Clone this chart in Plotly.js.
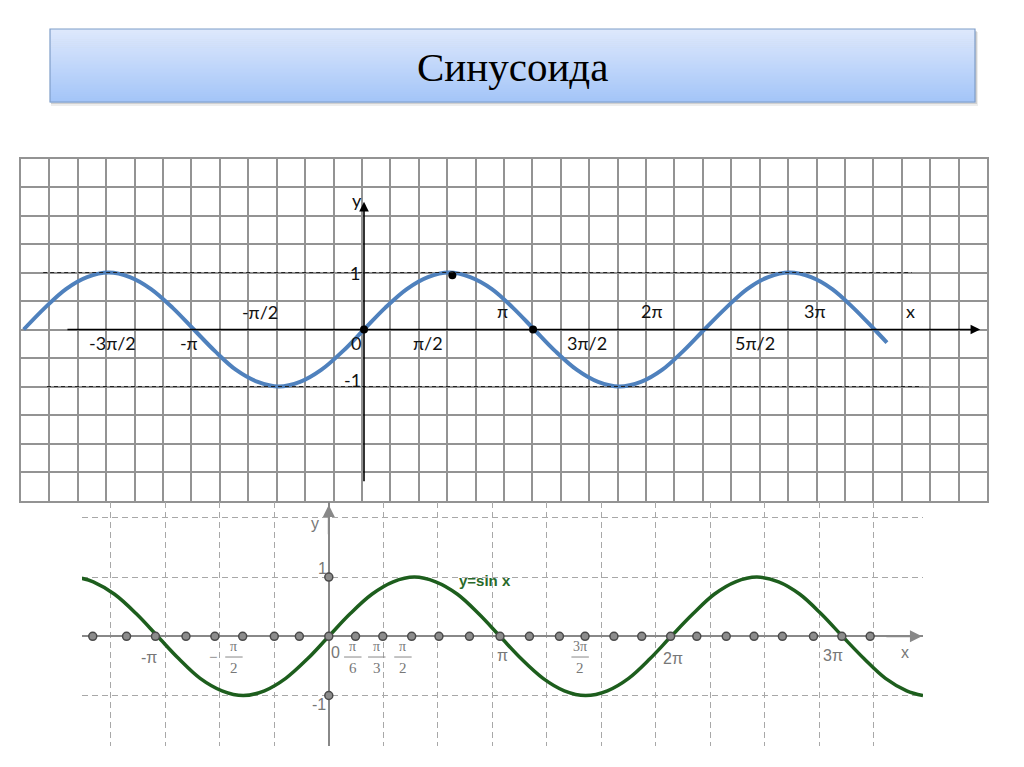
<!DOCTYPE html>
<html>
<head>
<meta charset="utf-8">
<script src="https://cdn.plot.ly/plotly-3.0.1.min.js"></script>
<style>html,body{margin:0;padding:0;background:#fff;}#chart{width:1024px;height:767px;}</style>
</head>
<body>
<div id="chart"></div>
<script>
// ---------- data ----------
const titleText = "Синусоида";

// top chart (blue sinusoid), x in radians
const topX = [-6.28, -5.89, -5.50, -5.11, -4.71, -4.32, -3.93, -3.53, -3.14, -2.75, -2.36, -1.96, -1.57, -1.18, -0.79, -0.39, 0, 0.39, 0.79, 1.18, 1.57, 1.96, 2.36, 2.75, 3.14, 3.53, 3.93, 4.32, 4.71, 5.11, 5.50, 5.89, 6.28, 6.68, 7.07, 7.46, 7.85, 8.25, 8.64, 9.03, 9.42, 9.65];
const topY = [0, 0.38, 0.71, 0.92, 1, 0.92, 0.71, 0.38, 0, -0.38, -0.71, -0.92, -1, -0.92, -0.71, -0.38, 0, 0.38, 0.71, 0.92, 1, 0.92, 0.71, 0.38, 0, -0.38, -0.71, -0.92, -1, -0.92, -0.71, -0.38, 0, 0.38, 0.71, 0.92, 1, 0.92, 0.71, 0.38, 0, -0.23];
const topDotX = [0, 1.63, 3.12];
const topDotY = [0, 0.95, 0];
const topLabels = ["-π/2", "π", "2π", "3π", "x", "-3π/2", "-π", "0", "π/2", "3π/2", "5π/2", "1", "-1", "y"];
const topLabelX = [-1.92, 2.55, 5.31, 8.32, 10.08, -4.65, -3.23, -0.15, 1.18, 4.12, 7.22, -0.17, -0.22, -0.13];
const topLabelY = [0.31, 0.32, 0.32, 0.32, 0.32, -0.24, -0.24, -0.24, -0.24, -0.24, -0.24, 0.99, -0.89, 2.27];

// bottom chart (green sinusoid)
const botX = [-4.53, -4.32, -3.93, -3.53, -3.14, -2.75, -2.36, -1.96, -1.57, -1.18, -0.79, -0.39, 0, 0.39, 0.79, 1.18, 1.57, 1.96, 2.36, 2.75, 3.14, 3.53, 3.93, 4.32, 4.71, 5.11, 5.50, 5.89, 6.28, 6.68, 7.07, 7.46, 7.85, 8.25, 8.64, 9.03, 9.42, 9.82, 10.21, 10.60, 10.90];
const botY = [0.98, 0.92, 0.71, 0.38, 0, -0.38, -0.71, -0.92, -1, -0.92, -0.71, -0.38, 0, 0.38, 0.71, 0.92, 1, 0.92, 0.71, 0.38, 0, -0.38, -0.71, -0.92, -1, -0.92, -0.71, -0.38, 0, 0.38, 0.71, 0.92, 1, 0.92, 0.71, 0.38, 0, -0.38, -0.71, -0.92, -1.0];
const botDotX = [-4.33, -3.71, -3.18, -2.62, -2.09, -1.58, -1.00, -0.54, 0, 0.49, 0.99, 1.52, 2.02, 2.58, 3.14, 3.68, 4.23, 4.70, 5.23, 5.74, 6.27, 6.75, 7.29, 7.80, 8.32, 8.89, 9.41, 9.93];
const botAxisDotY = [1, -1];
const botLabels = ["-π", "0", "π", "2π", "3π", "x", "y", "1", "-1"];
const botLabelX = [-3.30, 0.13, 3.18, 6.31, 9.25, 10.57, -0.25, -0.12, -0.18];
const botLabelY = [-0.35, -0.28, -0.32, -0.37, -0.32, -0.28, 1.91, 1.15, -1.16];
const fracNum = ["π", "π", "π", "π", "3π"];
const fracDen = ["2", "6", "3", "2", "2"];
const fracX = [-1.74, 0.44, 0.88, 1.36, 4.61];
const curveLabel = "y=sin x";

// ---------- layout helpers ----------
const W = 1024, H = 767;
const px = v => v / W;
const py = v => 1 - v / H;

const shapes = [];
// title box shadow
shapes.push({type:'rect', xref:'paper', yref:'paper', x0:px(51), x1:px(978), y0:py(106), y1:py(32), fillcolor:'rgba(0,0,0,0.07)', line:{width:0}, layer:'below'});
shapes.push({type:'rect', xref:'paper', yref:'paper', x0:px(51), x1:px(977), y0:py(104), y1:py(31), fillcolor:'rgba(0,0,0,0.12)', line:{width:0}, layer:'below'});
// gradient strips
const gTop = [222, 233, 252], gBot = [163, 196, 248];
const N = 36, bx0 = 50, bx1 = 975, by0 = 29, by1 = 102;
for (let i = 0; i < N; i++) {
  const t = (i + 0.5) / N;
  const c = gTop.map((v, k) => Math.round(v + (gBot[k] - v) * t));
  const ya = by0 + (by1 - by0) * i / N, yb = by0 + (by1 - by0) * (i + 1) / N + 0.6;
  shapes.push({type:'rect', xref:'paper', yref:'paper', x0:px(bx0), x1:px(bx1), y0:py(yb), y1:py(ya), fillcolor:`rgb(${c[0]},${c[1]},${c[2]})`, line:{width:0}, layer:'below'});
}
shapes.push({type:'rect', xref:'paper', yref:'paper', x0:px(bx0), x1:px(bx1), y0:py(by1), y1:py(by0), fillcolor:'rgba(0,0,0,0)', line:{color:'#7f9dc8', width:1.2}, layer:'below'});

// top dashed levels
shapes.push({type:'line', xref:'x', yref:'y', x0:-5.92, x1:10.11, y0:1, y1:1, line:{color:'#222', width:1, dash:'4px,3px'}});
shapes.push({type:'line', xref:'x', yref:'y', x0:-5.85, x1:10.30, y0:-1, y1:-1, line:{color:'#222', width:1, dash:'4px,3px'}});

// fraction bars bottom chart
fracX.forEach(x => shapes.push({type:'line', xref:'x2', yref:'y2', x0:x - 0.16, x1:x + 0.16, y0:-0.35, y1:-0.35, line:{color:'#888', width:1}}));

const annotations = [];
annotations.push({xref:'paper', yref:'paper', x:0.5, y:py(67), text:titleText, showarrow:false, font:{family:'Liberation Serif, serif', size:41, color:'#000'}, xanchor:'center', yanchor:'middle'});
// top axes arrows
annotations.push({xref:'x', yref:'y', x:11.37, y:0, axref:'x', ayref:'y', ax:-5.50, ay:0, text:'', showarrow:true, arrowhead:2, arrowsize:1.2, arrowwidth:1.6, arrowcolor:'#000'});
annotations.push({xref:'x', yref:'y', x:0, y:2.24, axref:'x', ayref:'y', ax:0, ay:-2.69, text:'', showarrow:true, arrowhead:2, arrowsize:1.2, arrowwidth:1.6, arrowcolor:'#000'});
// top labels
topLabels.forEach((t, i) => annotations.push({xref:'x', yref:'y', x:topLabelX[i], y:topLabelY[i], text:t, showarrow:false, font:{family:'Lato, Open Sans, sans-serif', size:18, color:'#111'}}));
// bottom axis arrows
annotations.push({xref:'x2', yref:'y2', x:10.88, y:0, axref:'x2', ayref:'y2', ax:10.2, ay:0, text:'', showarrow:true, arrowhead:2, arrowsize:1.2, arrowwidth:2, arrowcolor:'#888'});
annotations.push({xref:'x2', yref:'y2', x:0, y:2.22, axref:'x2', ayref:'y2', ax:0, ay:1.7, text:'', showarrow:true, arrowhead:2, arrowsize:1.2, arrowwidth:2, arrowcolor:'#888'});
// bottom labels
botLabels.forEach((t, i) => annotations.push({xref:'x2', yref:'y2', x:botLabelX[i], y:botLabelY[i], text:t, showarrow:false, font:{family:'Liberation Sans, Arial, sans-serif', size:16, color:'#777'}}));
annotations.push({xref:'x2', yref:'y2', x:-2.12, y:-0.35, text:'−', showarrow:false, font:{family:'Liberation Serif, serif', size:15, color:'#777'}});
fracX.forEach((x, i) => {
  annotations.push({xref:'x2', yref:'y2', x:x, y:-0.18, text:fracNum[i], showarrow:false, font:{family:'Liberation Serif, serif', size:14, color:'#777'}});
  annotations.push({xref:'x2', yref:'y2', x:x, y:-0.54, text:fracDen[i], showarrow:false, font:{family:'Liberation Serif, serif', size:15, color:'#777'}});
});
annotations.push({xref:'x2', yref:'y2', x:2.87, y:0.95, text:'<b>' + curveLabel + '</b>', showarrow:false, font:{family:'Liberation Sans, Arial, sans-serif', size:15, color:'#2a6a2a'}});

const traces = [
  {x:topX, y:topY, xaxis:'x', yaxis:'y', mode:'lines', line:{color:'#4f81bd', width:4, shape:'spline', smoothing:1}, hoverinfo:'skip'},
  {x:topDotX, y:topDotY, xaxis:'x', yaxis:'y', mode:'markers', marker:{color:'#000', size:8}, hoverinfo:'skip'},
  {x:botX, y:botY, xaxis:'x2', yaxis:'y2', mode:'lines', line:{color:'#1d5e1d', width:3.5, shape:'spline', smoothing:1}, hoverinfo:'skip'},
  {x:botDotX, y:botDotX.map(() => 0), xaxis:'x2', yaxis:'y2', mode:'markers', marker:{color:'#8c8c8c', size:8, line:{color:'#4a4a4a', width:1.5}}, hoverinfo:'skip'},
  {x:botAxisDotY.map(() => 0), y:botAxisDotY, xaxis:'x2', yaxis:'y2', mode:'markers', marker:{color:'#8c8c8c', size:8, line:{color:'#4a4a4a', width:1.5}}, hoverinfo:'skip'}
];

const gridCol = '#939393';
const layout = {
  width: W, height: H,
  margin: {l:0, r:0, t:0, b:0},
  paper_bgcolor: '#fff', plot_bgcolor: 'rgba(0,0,0,0)',
  showlegend: false,
  xaxis: {domain:[px(21), px(987)], range:[-6.3294, 11.4962], anchor:'y', tick0:-6.3294, dtick:0.52428, showgrid:true, gridcolor:gridCol, gridwidth:2, zeroline:false, showticklabels:false, ticks:'', showline:true, mirror:true, linecolor:gridCol, linewidth:2, fixedrange:true},
  yaxis: {domain:[py(500.7), py(159)], range:[-3.0035, 2.9912], anchor:'x', tick0:0, dtick:0.5, showgrid:true, gridcolor:gridCol, gridwidth:2, zeroline:false, showticklabels:false, ticks:'', showline:true, mirror:true, linecolor:gridCol, linewidth:2, fixedrange:true},
  xaxis2: {domain:[px(82), px(923)], range:[-4.527, 10.899], anchor:'y2', tick0:0, dtick:1, showgrid:true, gridcolor:'#a8a8a8', gridwidth:1, griddash:'6px,4px', zeroline:true, zerolinecolor:'#888', zerolinewidth:2, showticklabels:false, ticks:'', showline:false, fixedrange:true},
  yaxis2: {domain:[py(746), py(502)], range:[-1.853, 2.269], anchor:'x2', tick0:0, dtick:1, showgrid:true, gridcolor:'#a8a8a8', gridwidth:1, griddash:'6px,4px', zeroline:true, zerolinecolor:'#888', zerolinewidth:2, showticklabels:false, ticks:'', showline:false, fixedrange:true},
  shapes: shapes,
  annotations: annotations
};

Plotly.newPlot('chart', traces, layout, {displayModeBar:false, staticPlot:true});
</script>
</body>
</html>
